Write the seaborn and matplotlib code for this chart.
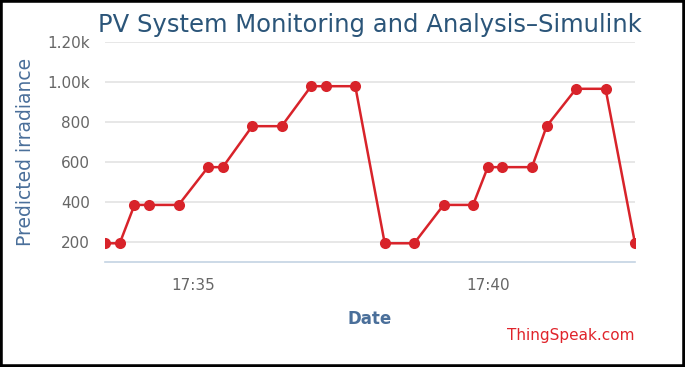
import numpy as np
import pandas as pd
import matplotlib
matplotlib.use("Agg")
import matplotlib.pyplot as plt
import matplotlib.dates as mdates
from matplotlib.patches import Rectangle
import seaborn as sns

# data
times = ["17:33:30", "17:33:45", "17:34:00", "17:34:15", "17:34:45", "17:35:15",
         "17:35:30", "17:36:00", "17:36:30", "17:37:00", "17:37:15", "17:37:45",
         "17:38:15", "17:38:45", "17:39:15", "17:39:45", "17:40:00", "17:40:15",
         "17:40:45", "17:41:00", "17:41:30", "17:42:00", "17:42:30"]
irradiance = [192, 192, 384, 384, 384, 573, 573, 778, 778, 978, 978, 978,
              192, 192, 384, 384, 573, 573, 573, 778, 965, 965, 192]
y_ticks = [200, 400, 600, 800, 1000, 1200]
y_tick_labels = ["200", "400", "600", "800", "1.00k", "1.20k"]
x_ticks = ["17:35:00", "17:40:00"]

df = pd.DataFrame({
    "Date": pd.to_datetime(["2020-01-01 " + t for t in times]),
    "irr": irradiance,
})

sns.set_style("white")
plt.rcParams["font.family"] = ["DejaVu Sans"]

fig = plt.figure(figsize=(6.85, 3.67), dpi=100)
ax = fig.add_axes([0.1533, 0.287, 0.7737, 0.599])

red = "#d8232a"
sns.lineplot(data=df, x="Date", y="irr", ax=ax, color=red, linewidth=1.8,
             marker="o", markersize=8, markeredgewidth=0, markeredgecolor=red)

ax.set_xlim(df["Date"].iloc[0], df["Date"].iloc[-1])
ax.set_ylim(100, 1200)
ax.set_yticks(y_ticks)
ax.set_yticklabels(y_tick_labels)
ax.set_xticks(pd.to_datetime(["2020-01-01 " + t for t in x_ticks]))
ax.xaxis.set_major_formatter(mdates.DateFormatter("%H:%M"))

ax.grid(axis="y", color="#e3e3e3", linewidth=1.2)
ax.set_axisbelow(True)
for s in ["top", "right", "left"]:
    ax.spines[s].set_visible(False)
ax.spines["bottom"].set_color("#c4d3e3")
ax.spines["bottom"].set_linewidth(1.2)
ax.tick_params(axis="x", colors="#666666", labelsize=11, length=8, width=1.2,
               color="#c4d3e3", pad=4, direction="out")
ax.tick_params(axis="y", colors="#666666", labelsize=11, length=0, pad=11)

ax.set_xlabel("Date", color="#4a6f9a", fontsize=12, fontweight="bold", labelpad=12)
ax.set_ylabel("Predicted irradiance", color="#4a6f9a", fontsize=13.5,
              fontweight="medium", labelpad=9)

fig.text(0.54, 0.932, "PV System Monitoring and Analysis\u2013Simulink",
         ha="center", va="center", fontsize=17.5, color="#2b5579")
fig.text(0.927, 0.085, "ThingSpeak.com", ha="right", va="center",
         fontsize=11, color="#e0242b")

fig.patches.append(Rectangle((0, 0), 1, 1, transform=fig.transFigure,
                             fill=False, edgecolor="black", linewidth=4))

fig.savefig("out.png", dpi=100)
